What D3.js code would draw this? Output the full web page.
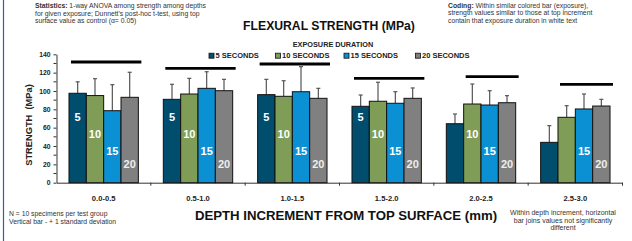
<!DOCTYPE html>
<html lang="en">
<head>
<meta charset="UTF-8">
<title>Flexural strength</title>
<style>
  body { margin: 0; background: #fff; }
  svg { display: block; font-family: "Liberation Sans", Arial, sans-serif; }
</style>
</head>
<body>
<div id="chart"></div>
<script src="https://d3js.org/d3.v7.min.js"></script>
<script>
// depth increments and exposure durations
const categories = ["0.0-0.5", "0.5-1.0", "1.0-1.5", "1.5-2.0", "2.0-2.5", "2.5-3.0"];
const exposures = ["5", "10", "15", "20"];
const legendLabels = ["5 SECONDS", "10 SECONDS", "15 SECONDS", "20 SECONDS"];

// mean strength (MPa) per exposure, one value per depth increment
const mean5  = [97.5, 90.9, 96.0, 83.3, 64.3, 44.0];
const mean10 = [95.0, 96.7, 94.2, 88.8, 85.8, 71.3];
const mean15 = [78.5, 102.9, 99.2, 86.6, 84.7, 80.4];
const mean20 = [93.1, 100.3, 92.0, 92.0, 87.2, 83.6];

// standard deviations
const sd5  = [12.5, 16.4, 16.7, 12.3, 10.6, 18.2];
const sd10 = [18.4, 17.1, 17.0, 20.7, 21.8, 12.7];
const sd15 = [28.4, 18.1, 27.3, 12.6, 15.6, 16.3];
const sd20 = [27.3, 12.4, 10.9, 11.3, 7.7, 7.3];

// which bars carry the white exposure label (1 = yes)
const label5  = [1, 1, 1, 1, 0, 0];
const label10 = [1, 1, 1, 1, 1, 0];
const label15 = [1, 1, 1, 1, 1, 1];
const label20 = [1, 1, 1, 1, 1, 1];

// horizontal "not significantly different" bars: first/last exposure joined, level in MPa
const sigFrom  = ["5", "5", "5", "5", "10", "10"];
const sigTo    = ["20", "20", "20", "20", "20", "20"];
const sigLevel = [131.6, 124.7, 129.4, 113.8, 115.6, 107.3];

const yTicks = [0, 20, 40, 60, 80, 100, 120, 140];
const yMinor = [10, 30, 50, 70, 90, 110, 130];

const means = [mean5, mean10, mean15, mean20];
const sds = [sd5, sd10, sd15, sd20];
const labels = [label5, label10, label15, label20];
const colors = ["#004d6e", "#7f9d57", "#0b91d3", "#808080"];
// height (in MPa) where each exposure's white label sits
const labelLevel = [72, 53, 35, 20];

const width = 632, height = 241;
const svg = d3.select("#chart").append("svg")
    .attr("width", width)
    .attr("height", height);

// blue left border
svg.append("line")
    .attr("x1", 3.5).attr("x2", 3.5)
    .attr("y1", 0).attr("y2", height)
    .attr("stroke", "#2f5fae").attr("stroke-width", 1.2);

const x0 = d3.scaleBand().domain(categories).range([56.5, 622.5]).padding(0);
const x1 = d3.scaleBand().domain(exposures).range([0, x0.bandwidth()])
    .paddingInner(0).paddingOuter(0.72);
const y = d3.scaleLinear().domain([0, 140]).range([182.7, 54.3]);
const color = d3.scaleOrdinal().domain(exposures).range(colors);

// flat rows for bars
const rows = [];
categories.forEach((c, i) => {
    exposures.forEach((e, j) => {
        rows.push({cat: c, exp: e, mean: means[j][i], sd: sds[j][i], lab: labels[j][i], lvl: labelLevel[j]});
    });
});

// y axis
const yAxis = svg.append("g")
    .attr("transform", `translate(${56.5},0)`)
    .call(d3.axisLeft(y).tickValues(yTicks).tickSize(3).tickSizeOuter(0).tickPadding(3));
yAxis.select(".domain").attr("stroke", "#333");
yAxis.selectAll(".tick line").attr("stroke", "#333");
yAxis.selectAll("text")
    .attr("font-size", 6.8).attr("font-weight", "bold").attr("fill", "#222");
svg.append("g").selectAll("line").data(yMinor).join("line")
    .attr("x1", 53.5).attr("x2", 56.5)
    .attr("y1", d => y(d)).attr("y2", d => y(d))
    .attr("stroke", "#333");

// x axis
const xAxis = svg.append("g")
    .attr("transform", `translate(0,${y(0)})`)
    .call(d3.axisBottom(x0).tickSize(0).tickPadding(12.5).tickSizeOuter(0));
xAxis.select(".domain").attr("stroke", "#333");
xAxis.selectAll("text")
    .attr("font-size", 7.6).attr("font-weight", "bold").attr("fill", "#222");
svg.append("g").selectAll("line").data(categories).join("line")
    .attr("x1", d => x0(d) + x0.bandwidth()).attr("x2", d => x0(d) + x0.bandwidth())
    .attr("y1", y(0)).attr("y2", y(0) + 3)
    .attr("stroke", "#333");

// error bars (upper only)
const err = svg.append("g").attr("stroke", "#555").attr("stroke-width", 1.2);
err.selectAll("line.v").data(rows).join("line").attr("class", "v")
    .attr("x1", d => x0(d.cat) + x1(d.exp) + x1.bandwidth() / 2)
    .attr("x2", d => x0(d.cat) + x1(d.exp) + x1.bandwidth() / 2)
    .attr("y1", d => y(d.mean)).attr("y2", d => y(d.mean + d.sd));
err.selectAll("line.c").data(rows).join("line").attr("class", "c")
    .attr("x1", d => x0(d.cat) + x1(d.exp) + x1.bandwidth() / 2 - 2)
    .attr("x2", d => x0(d.cat) + x1(d.exp) + x1.bandwidth() / 2 + 2)
    .attr("y1", d => y(d.mean + d.sd)).attr("y2", d => y(d.mean + d.sd));

// bars
svg.append("g").selectAll("rect").data(rows).join("rect")
    .attr("x", d => x0(d.cat) + x1(d.exp))
    .attr("y", d => y(d.mean))
    .attr("width", x1.bandwidth())
    .attr("height", d => y(0) - y(d.mean))
    .attr("fill", d => color(d.exp))
    .attr("stroke", "#111")
    .attr("stroke-width", 1);

// white exposure labels inside bars
svg.append("g").selectAll("text").data(rows.filter(d => d.lab)).join("text")
    .attr("x", d => x0(d.cat) + x1(d.exp) + x1.bandwidth() / 2)
    .attr("y", d => y(d.lvl) + 4)
    .attr("text-anchor", "middle")
    .attr("font-size", 11).attr("font-weight", "bold")
    .attr("fill", d => d.exp === "20" ? "#eeeeee" : "#fff")
    .text(d => d.exp);

// significance bars
svg.append("g").selectAll("line").data(categories).join("line")
    .attr("x1", (d, i) => x0(d) + x1(sigFrom[i]) + 2)
    .attr("x2", (d, i) => x0(d) + x1(sigTo[i]) + x1.bandwidth() + 3)
    .attr("y1", (d, i) => y(sigLevel[i])).attr("y2", (d, i) => y(sigLevel[i]))
    .attr("stroke", "#000").attr("stroke-width", 2.8);

// legend
svg.append("text")
    .attr("x", 333).attr("y", 46.5)
    .attr("text-anchor", "middle")
    .attr("font-size", 7.3).attr("font-weight", "bold").attr("fill", "#222")
    .text("EXPOSURE DURATION");
const legendX = [211.5, 278, 346.5, 418];
const leg = svg.append("g").selectAll("g").data(exposures).join("g")
    .attr("transform", (d, i) => `translate(${legendX[i]},55.7)`);
leg.append("rect")
    .attr("x", -2.5).attr("y", -2.5).attr("width", 5).attr("height", 5)
    .attr("fill", d => color(d)).attr("stroke", "#111").attr("stroke-width", 0.8);
leg.append("text")
    .attr("x", 4).attr("y", 2.6)
    .attr("font-size", 7.5).attr("font-weight", "bold").attr("fill", "#222")
    .text((d, i) => legendLabels[i]);

// titles
svg.append("text")
    .attr("x", 329).attr("y", 29.5)
    .attr("text-anchor", "middle")
    .attr("font-size", 12.2).attr("font-weight", "bold").attr("fill", "#111")
    .text("FLEXURAL STRENGTH (MPa)");
svg.append("text")
    .attr("x", 346).attr("y", 219.5)
    .attr("text-anchor", "middle")
    .attr("font-size", 13.2).attr("font-weight", "bold").attr("fill", "#111")
    .text("DEPTH INCREMENT FROM TOP SURFACE (mm)");
svg.append("text")
    .attr("transform", "translate(32,125) rotate(-90)")
    .attr("text-anchor", "middle")
    .attr("font-size", 9.3).attr("font-weight", "bold").attr("fill", "#222")
    .attr("xml:space", "preserve")
    .text("STRENGTH  (MPa)");

// notes
function note(lines, x, y0, anchor, size) {
    const t = svg.append("text")
        .attr("x", x).attr("y", y0)
        .attr("text-anchor", anchor)
        .attr("font-size", size).attr("fill", "#333");
    lines.forEach((l, i) => {
        const ts = t.append("tspan").attr("x", x).attr("dy", i ? 7.7 : 0);
        if (l[0]) ts.append("tspan").attr("font-weight", "bold").text(l[0]);
        ts.append("tspan").text(l[1]);
    });
}
note([["Statistics:", " 1-way ANOVA among strength among depths"],
      ["", "for given exposure; Dunnett's post-hoc t-test, using top"],
      ["", "surface value as control (\u03b1= 0.05)"]], 35, 8, "start", 6.8);
note([["Coding:", " Within similar colored bar (exposure),"],
      ["", "strength values similar to those at top increment"],
      ["", "contain that exposure duration in white text"]], 448, 7.5, "start", 6.8);
note([["", "N = 10 specimens per test group"],
      ["", "Vertical bar - + 1 standard deviation"]], 9, 216, "start", 6.8);
note([["", "Within depth increment, horizontal"],
      ["", "bar joins values not significantly"],
      ["", "different"]], 563, 215, "middle", 7);
</script>
</body>
</html>
